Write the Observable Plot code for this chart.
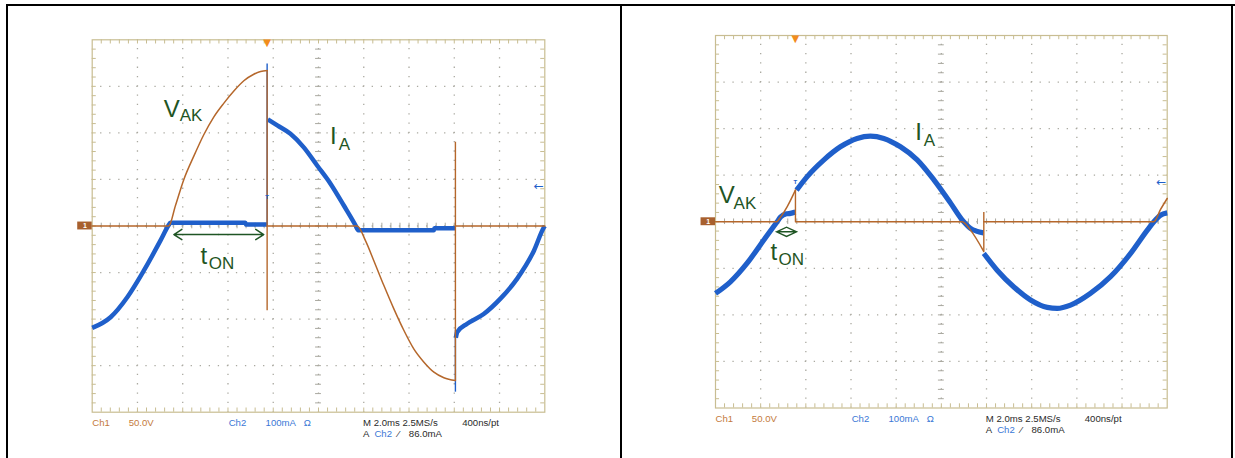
<!DOCTYPE html>
<html>
<head>
<meta charset="utf-8">
<script src="https://cdn.jsdelivr.net/npm/d3@7"></script>
<script src="https://cdn.jsdelivr.net/npm/@observablehq/plot@0.6"></script>
<style>
  html, body { margin: 0; padding: 0; background: #fff; }
  #page { position: relative; width: 1235px; height: 458px; overflow: hidden; background: #fff; }
  .bl { position: absolute; background: #000; }
  .panel { position: absolute; top: 0; }
</style>
</head>
<body>
<div id="page">
  <div class="bl" style="left:6px;top:4px;width:1229px;height:2px"></div>
  <div class="bl" style="left:6px;top:4px;width:2px;height:454px"></div>
  <div class="bl" style="left:620px;top:4px;width:2px;height:454px"></div>
  <div class="bl" style="left:1231px;top:4px;width:2px;height:454px"></div>
  <div id="left" class="panel" style="left:0px"></div>
  <div id="right" class="panel" style="left:620px"></div>
</div>
<script>
// ---------- scope settings ----------
const MS_PER_DIV = 2;      // M 2.0ms
const V_PER_DIV = 50;      // Ch1 50.0V
const MA_PER_DIV = 100;    // Ch2 100mA
const triggerLevelMa = 86.0;

// grid (time in ms, vertical in divisions)
const gridTimesMs = [2, 4, 6, 8, 10, 12, 14, 16, 18];
const gridDivs = [-3, -2, -1, 0, 1, 2, 3];

// ---------- left screenshot ----------
// V_AK (Ch1): [time ms, volts], continuous pieces
const leftVak1 = [
  [0, 0], [3.38, 0], [3.68, 22], [4.05, 50], [4.49, 75], [4.93, 98],
  [5.37, 117], [5.82, 132], [6.26, 145], [6.70, 156], [7.14, 163], [7.44, 166], [7.73, 167]
];
const leftVak2 = [
  [7.73, 0], [11.71, 0], [12.08, -16], [12.44, -37], [12.89, -64], [13.33, -89],
  [13.77, -112], [14.21, -132], [14.65, -146], [15.10, -157], [15.54, -163], [16.05, -166]
];
const leftVak3 = [[16.05, 0], [20, 0]];
// thin voltage spikes: [time ms, from V, to V]
const leftVakSpikes = [[7.73, 167, -91], [16.05, -166, 90]];
// I_A (Ch2): [time ms, mA], three continuous pieces
const leftIa1 = [
  [0, -219], [0.81, -196], [1.55, -153], [2.28, -96], [3.02, -31], [3.38, 2], [3.45, 7],
  [6.77, 7], [6.80, 3], [7.73, 3]
];
const leftIa2 = [
  [7.76, 229], [8.18, 216], [8.76, 198], [9.35, 169], [9.94, 130], [10.53, 91], [11.12, 44],
  [11.64, 1], [11.75, -9], [15.10, -9], [15.12, -5], [16.05, -5]
];
const leftIa3 = [
  [16.07, -240], [16.13, -228], [16.57, -210], [17.30, -189], [18.04, -156], [18.78, -113],
  [19.52, -53], [19.96, -3], [20, 0]
];
// thin current spikes: [time ms, from mA, to mA]
const leftIaSpikes = [[7.73, 0, 348], [16.05, -225, -357]];
const leftTriggerMs = 7.73;
const leftMarkMa = 62;

// ---------- right screenshot ----------
const rightVak1 = [[0, 0], [2.70, 0], [2.88, 5], [3.17, 16], [3.54, 34]];
const rightVak2 = [[3.54, 0], [10.92, 0], [11.29, -9], [11.88, -32]];
const rightVak3 = [[11.88, 0], [19.41, 0], [19.70, 13], [20, 25]];
const rightVakSpikes = [[3.54, 34, 0], [11.88, -32, 10]];
const rightIa1 = [
  [0, -154], [0.66, -129], [1.40, -89], [2.14, -39], [2.73, 0], [2.88, 10], [3.14, 17],
  [3.32, 18], [3.54, 21]
];
const rightIa2 = [
  [3.59, 68], [4.06, 97], [4.80, 133], [5.53, 161], [6.27, 179], [6.86, 184], [7.45, 179],
  [8.19, 161], [8.93, 133], [9.67, 90], [10.41, 40], [10.92, 4], [11.29, -14], [11.55, -20], [11.87, -24]
];
const rightIa3 = [
  [11.88, -68], [12.47, -104], [13.21, -140], [13.95, -168], [14.69, -184], [15.13, -186],
  [15.72, -179], [16.60, -154], [17.49, -118], [18.38, -68], [19.12, -18], [19.41, 0],
  [19.70, 14], [20, 19]
];
const rightIaSpikes = [];
const rightTriggerMs = 3.54;
const rightMarkMa = 86;

// ---------- annotations (time ms, divisions) ----------
const annoMain = ["V", "I", "t"];
const annoSub = ["AK", "A", "ON"];
const leftMainMs = [3.16, 10.51, 4.79];
const leftMainDiv = [2.352, 1.766, -0.812];
const leftSubMs = [3.87, 10.90, 5.15];
const leftSubDiv = [2.251, 1.622, -0.919];
const rightMainMs = [0.146, 8.84, 2.44];
const rightMainDiv = [0.395, 1.76, -0.823];
const rightSubMs = [0.80, 9.22, 2.79];
const rightSubDiv = [0.266, 1.63, -0.93];
const leftTonMs = [3.61, 7.58];
const leftTonDiv = -0.183;
const rightTonMs = [2.70, 3.59];
const rightTonDiv = -0.215;

// ---------- scope status line ----------
const footerText = ["Ch1", "50.0V", "Ch2", "100mA", "Ω", "M 2.0ms 2.5MS/s", "400ns/pt", "A", "Ch2", "⁄", "86.0mA"];
const footerMs = [0, 1.61, 6.03, 7.66, 9.35, 11.97, 16.35, 11.97, 12.47, 13.5, 13.99];
const footerRow = [1, 1, 1, 1, 1, 1, 1, 2, 2, 2, 2];
const footerSource = ["ch1", "ch1", "ch2", "ch2", "ch2", "sys", "sys", "sys", "ch2", "sys", "sys"];

// ---------- styling ----------
const VAK_COLOR = "#b5672b";
const IA_COLOR = "#1f5fca";
const ANNO_COLOR = "#1f5524";
const GRID_COLOR = "#aaa9a0";
const FRAME_COLOR = "#c8bd92";
const SRC_COLOR = {ch1: "#c47a3c", ch2: "#3b78d6", sys: "#2a2a2a"};
const FONT = "'Liberation Sans', Arial, sans-serif";

const diamondArrow = {
  draw(ctx) {
    const w = 10, h = 4.6;
    ctx.moveTo(-w, 0); ctx.lineTo(0, -h); ctx.lineTo(w, 0); ctx.lineTo(0, h); ctx.closePath();
    ctx.moveTo(-w, 0); ctx.lineTo(w, 0);
  }
};

function panel(p) {
  const H = 458;
  const pw = p.width - p.ml - p.mr, ph = H - p.mt - p.mb;
  const stepX = pw / 50, stepY = ph / 40, dot = 1.3;
  const subX = d3.range(1, 50).map(i => i * MS_PER_DIV / 5);
  const subY = d3.range(1, 40).map(i => -4 + i * 0.2);
  const vd = v => v / V_PER_DIV, ad = a => a / MA_PER_DIV;
  const tx = d => d[0];
  const footY = (d, i) => footerRow[i] === 1 ? -4.29 : -4.535;

  const iaLine = seg => Plot.line(seg, {x: tx, y: d => ad(d[1]), stroke: IA_COLOR, strokeWidth: p.iaWidth, strokeLinejoin: "round", strokeLinecap: "butt", curve: "monotone-x"});
  const vakLine = seg => Plot.line(seg, {x: tx, y: d => vd(d[1]), stroke: VAK_COLOR, strokeWidth: 1.5, strokeLinejoin: "round", curve: "monotone-x"});

  const marks = [
    // graticule
    Plot.ruleX(gridTimesMs, {y1: -4, y2: 4, stroke: GRID_COLOR, strokeWidth: 1.3, strokeDasharray: `${dot} ${stepY - dot}`, strokeDashoffset: dot / 2}),
    Plot.ruleY(gridDivs, {x1: 0, x2: 20, stroke: GRID_COLOR, strokeWidth: 1.3, strokeDasharray: `${dot} ${stepX - dot}`, strokeDashoffset: dot / 2}),
    Plot.ruleX(subX, {y1: -0.06, y2: 0.06, stroke: GRID_COLOR, strokeWidth: 1}),
    Plot.ruleY(subY, {x1: 10 - 0.13, x2: 10 + 0.13, stroke: GRID_COLOR, strokeWidth: 1}),
    Plot.ruleX(subX, {y1: -4, y2: -3.91, stroke: FRAME_COLOR, strokeWidth: 1}),
    Plot.ruleX(subX, {y1: 4, y2: 3.91, stroke: FRAME_COLOR, strokeWidth: 1}),
    Plot.ruleY(subY, {x1: 0, x2: 0.18, stroke: FRAME_COLOR, strokeWidth: 1}),
    Plot.ruleY(subY, {x1: 20, x2: 19.82, stroke: FRAME_COLOR, strokeWidth: 1}),
    Plot.frame({stroke: FRAME_COLOR, strokeWidth: 1.2}),
    // current trace (Ch2)
    ...p.ia.map(iaLine),
    Plot.ruleX(p.iaSpikes, {x: d => d[0], y1: d => ad(d[1]), y2: d => ad(d[2]), stroke: IA_COLOR, strokeWidth: 1.4}),
    // voltage trace (Ch1)
    ...p.vak.map(vakLine),
    Plot.ruleX(p.vakSpikes, {x: d => d[0], y1: d => vd(d[1]), y2: d => vd(d[2]), stroke: VAK_COLOR, strokeWidth: 1.4}),
    // ground marker
    Plot.rect([0], {x1: -0.64, x2: 0, y1: -0.085, y2: 0.085, fill: "#a8602e", inset: 0}),
    Plot.text(["1"], {x: -0.32, y: 0, text: d => d, fill: "#fff", fontSize: 7, fontWeight: "bold", lineAnchor: "middle"}),
    // trigger position / level markers
    Plot.text(["▼"], {x: p.trig, y: 4, text: d => d, fill: "#f28c1c", fontSize: 10, lineAnchor: "top", dy: -1, fontFamily: "DejaVu Sans"}),
    Plot.text(["T"], {x: p.trig, y: ad(p.mark), text: d => d, fill: IA_COLOR, fontSize: 6, fontWeight: "bold", lineAnchor: "middle"}),
    Plot.text(["←"], {x: 20, y: ad(triggerLevelMa), text: d => d, fill: IA_COLOR, fontSize: 12, textAnchor: "end", lineAnchor: "middle", dx: -1, fontFamily: "DejaVu Sans"}),
    // annotations
    Plot.text(annoMain, {x: (d, i) => p.mainMs[i], y: (d, i) => p.mainDiv[i], text: d => d, fill: ANNO_COLOR, fontSize: 24, textAnchor: "start", lineAnchor: "bottom", fontFamily: FONT}),
    Plot.text(annoSub, {x: (d, i) => p.subMs[i], y: (d, i) => p.subDiv[i], text: d => d, fill: ANNO_COLOR, fontSize: 17, textAnchor: "start", lineAnchor: "bottom", fontFamily: FONT}),
    // status line
    Plot.text(footerText, {x: (d, i) => footerMs[i], y: footY, text: d => d, fill: (d, i) => SRC_COLOR[footerSource[i]], fontSize: 9.6, textAnchor: "start", lineAnchor: "bottom", fontFamily: FONT})
  ];
  marks.push(...p.tonMarks);

  return Plot.plot({
    width: p.width, height: H,
    marginLeft: p.ml, marginRight: p.mr, marginTop: p.mt, marginBottom: p.mb,
    x: {domain: [0, 20], axis: null},
    y: {domain: [-4, 4], axis: null},
    style: {background: "transparent", overflow: "visible", fontFamily: FONT},
    marks
  });
}

const leftMid = (leftTonMs[0] + leftTonMs[1]) / 2;
const leftSvg = panel({
  width: 620, ml: 91.7, mr: 620 - 544.3, mt: 39.3, mb: 458 - 411.7,
  vak: [leftVak1, leftVak2, leftVak3], vakSpikes: leftVakSpikes,
  ia: [leftIa1, leftIa2, leftIa3], iaSpikes: leftIaSpikes, iaWidth: 4.5,
  trig: leftTriggerMs, mark: leftMarkMa,
  mainMs: leftMainMs, mainDiv: leftMainDiv, subMs: leftSubMs, subDiv: leftSubDiv,
  tonMarks: [
    Plot.arrow(leftTonMs, {x1: leftMid, x2: d => d, y1: leftTonDiv, y2: leftTonDiv, stroke: ANNO_COLOR, strokeWidth: 1.5, headLength: 9.5, headAngle: 66})
  ]
});
document.getElementById("left").appendChild(leftSvg);

const rightMid = (rightTonMs[0] + rightTonMs[1]) / 2;
const rightSvg = panel({
  width: 615, ml: 95, mr: 615 - 546.7, mt: 35, mb: 458 - 407.5,
  vak: [rightVak1, rightVak2, rightVak3], vakSpikes: rightVakSpikes,
  ia: [rightIa1, rightIa2, rightIa3], iaSpikes: rightIaSpikes, iaWidth: 5.2,
  trig: rightTriggerMs, mark: rightMarkMa,
  mainMs: rightMainMs, mainDiv: rightMainDiv, subMs: rightSubMs, subDiv: rightSubDiv,
  tonMarks: [
    Plot.dot([rightMid], {x: d => d, y: rightTonDiv, symbol: diamondArrow, fill: "none", stroke: ANNO_COLOR, strokeWidth: 1.4})
  ]
});
document.getElementById("right").appendChild(rightSvg);
</script>
</body>
</html>
